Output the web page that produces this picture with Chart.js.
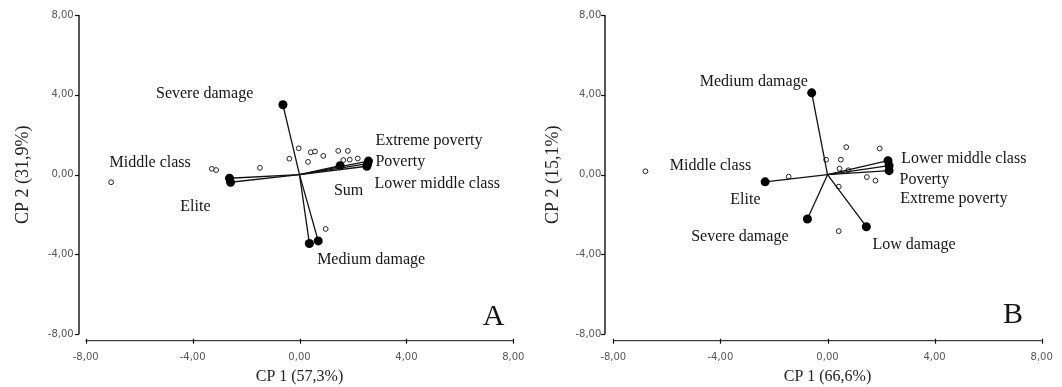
<!DOCTYPE html>
<html>
<head>
<meta charset="utf-8">
<script src="https://cdn.jsdelivr.net/npm/chart.js@4/dist/chart.umd.min.js"></script>
<style>
  html, body { margin: 0; padding: 0; background: #fff; }
  #wrap { position: relative; width: 1062px; height: 387px; overflow: hidden; }
  canvas { position: absolute; top: 0; }
</style>
</head>
<body>
<div id="wrap">
  <canvas id="panelA" width="530" height="387" style="left:0;width:530px;height:387px"></canvas>
  <canvas id="panelB" width="532" height="387" style="left:530px;width:532px;height:387px"></canvas>
</div>
<script>
// ---- shared tick labels (decimal comma) ----
const tickValues = [-8, -4, 0, 4, 8];
const tickLabels = ['-8,00', '-4,00', '0,00', '4,00', '8,00'];

// ---- Panel A: PCA biplot ----
const scoresAX = [-7.05, -3.28, -3.12, -1.48, -0.03, -0.38, 0.42, 0.58, 0.32, 0.89, 1.45, 1.81, 1.64, 1.88, 2.18, 0.98];
const scoresAY = [-0.38, 0.29, 0.23, 0.34, 1.32, 0.80, 1.12, 1.16, 0.64, 0.94, 1.19, 1.19, 0.73, 0.75, 0.81, -2.72];

const loadNamesA = ['Severe damage', 'Medium damage', 'Low damage', 'Middle class', 'Elite',
                    'Extreme poverty', 'Poverty', 'Lower middle class', 'Sum'];
const loadAX = [-0.62, 0.37, 0.70, -2.62, -2.58, 2.58, 2.55, 2.52, 1.52];
const loadAY = [3.50, -3.45, -3.32, -0.18, -0.38, 0.68, 0.55, 0.42, 0.45];

const labelTextA = ['Severe damage', 'Extreme poverty', 'Poverty', 'Lower middle class', 'Sum',
                    'Middle class', 'Elite', 'Medium damage'];
const labelAX = [-5.37, 2.84, 2.84, 2.81, 1.29, -7.11, -4.46, 0.66];
const labelAY = [4.04, 1.68, 0.63, -0.48, -0.83, 0.58, -1.63, -4.29];

// ---- Panel B: PCA biplot ----
const scoresBX = [-6.80, -1.45, -0.05, 0.50, 0.70, 1.95, 0.45, 0.78, 1.47, 1.79, 0.42, 0.42];
const scoresBY = [0.17, -0.10, 0.75, 0.75, 1.38, 1.31, 0.30, 0.22, -0.12, -0.30, -0.60, -2.83];

const loadNamesB = ['Medium damage', 'Elite', 'Severe damage', 'Low damage',
                    'Lower middle class', 'Poverty', 'Extreme poverty'];
const loadBX = [-0.59, -2.33, -0.75, 1.45, 2.26, 2.30, 2.30];
const loadBY = [4.10, -0.36, -2.22, -2.61, 0.70, 0.45, 0.20];

const labelTextB = ['Medium damage', 'Lower middle class', 'Poverty', 'Extreme poverty',
                    'Middle class', 'Elite', 'Severe damage', 'Low damage'];
const labelBX = [-4.77, 2.75, 2.69, 2.72, -5.89, -3.63, -5.09, 1.68];
const labelBY = [4.64, 0.78, -0.28, -1.23, 0.43, -1.28, -3.13, -3.53];

const SERIF = '"Liberation Serif", "Times New Roman", serif';
const SANS = '"DejaVu Sans", sans-serif';

// Draws the detached axis lines with their tick marks (SPSS style).
const detachedAxes = {
  id: 'detachedAxes',
  afterDraw(chart, args, opts) {
    const { ctx, scales: { x, y } } = chart;
    const ax = chart.chartArea.left - opts.yGap;
    const ay = chart.chartArea.bottom + opts.xGap;
    ctx.save();
    ctx.strokeStyle = '#111';
    ctx.lineWidth = 1.4;
    ctx.beginPath();
    ctx.moveTo(ax, y.getPixelForValue(8));
    ctx.lineTo(ax, y.getPixelForValue(-8));
    ctx.stroke();
    ctx.lineWidth = 1;
    ctx.beginPath();
    ctx.moveTo(x.getPixelForValue(-8), ay);
    ctx.lineTo(x.getPixelForValue(8), ay);
    ctx.stroke();
    ctx.lineWidth = 1.2;
    tickValues.forEach(v => {
      const py = Math.round(y.getPixelForValue(v)) + 0.5;
      ctx.beginPath(); ctx.moveTo(ax - 4, py); ctx.lineTo(ax, py); ctx.stroke();
      const px = Math.round(x.getPixelForValue(v)) + 0.5;
      ctx.beginPath(); ctx.moveTo(px, ay - 2); ctx.lineTo(px, ay + 3); ctx.stroke();
    });
    ctx.restore();
  }
};

// Writes the variable names and the panel letter at their data-space anchors.
const biplotLabels = {
  id: 'biplotLabels',
  afterDatasetsDraw(chart, args, opts) {
    const { ctx, scales: { x, y } } = chart;
    ctx.save();
    ctx.fillStyle = '#151515';
    ctx.textBaseline = 'middle';
    ctx.textAlign = 'left';
    ctx.font = '16px ' + SERIF;
    opts.texts.forEach((t, i) => {
      ctx.fillText(t, x.getPixelForValue(opts.xs[i]), y.getPixelForValue(opts.ys[i]));
    });
    ctx.font = '30px ' + SERIF;
    ctx.fillText(opts.letter, x.getPixelForValue(opts.letterX), y.getPixelForValue(opts.letterY));
    ctx.restore();
  }
};

function makePanel(id, p) {
  const datasets = [];
  p.loadX.forEach((lx, i) => {
    datasets.push({
      label: p.loadNames[i],
      data: [{ x: 0, y: 0 }, { x: lx, y: p.loadY[i] }],
      showLine: true,
      borderColor: '#111',
      borderWidth: 1.3,
      pointRadius: [0, 4.5],
      pointBackgroundColor: '#000',
      pointBorderColor: '#000',
      pointBorderWidth: 0
    });
  });
  datasets.push({
    label: 'scores',
    data: p.sx.map((v, i) => ({ x: v, y: p.sy[i] })),
    showLine: false,
    pointRadius: 2.4,
    pointBorderWidth: 1,
    pointBorderColor: '#222',
    pointBackgroundColor: '#fff'
  });

  const tickCb = v => {
    const k = tickValues.indexOf(v);
    return k >= 0 ? tickLabels[k] : '';
  };

  return new Chart(document.getElementById(id), {
    type: 'scatter',
    data: { datasets },
    options: {
      responsive: false,
      animation: false,
      devicePixelRatio: 1,
      events: [],
      layout: { padding: { left: 0, top: 15, right: p.width - p.chartRight, bottom: 0 } },
      plugins: {
        legend: { display: false },
        tooltip: { enabled: false },
        detachedAxes: { yGap: p.yGap, xGap: 6.4 },
        biplotLabels: {
          texts: p.labelText, xs: p.labelX, ys: p.labelY,
          letter: p.letter, letterX: p.letterX, letterY: p.letterY
        }
      },
      scales: {
        x: {
          type: 'linear', min: -8, max: 8,
          ticks: {
            stepSize: 4, padding: 0, autoSkip: false, maxRotation: 0,
            color: '#555', font: { family: SANS, size: 10 }, callback: tickCb
          },
          grid: { display: false, drawTicks: true, tickLength: 17 },
          border: { display: false },
          title: {
            display: true, text: p.xTitle, color: '#222',
            font: { family: SERIF, size: 16, lineHeight: 1.2 },
            padding: { top: 0, bottom: 1 }
          },
          afterFit(s) { s.height = 387 - 334.3; }
        },
        y: {
          type: 'linear', min: -8, max: 8,
          ticks: {
            stepSize: 4, padding: 0, autoSkip: false,
            color: '#555', font: { family: SANS, size: 10 }, callback: tickCb
          },
          grid: { display: false, drawTicks: true, tickLength: 12 },
          border: { display: false },
          title: {
            display: true, text: p.yTitle, color: '#222',
            font: { family: SERIF, size: 18, lineHeight: 1.2 },
            padding: { top: 12, bottom: 0 }
          },
          afterFit(s) { s.width = p.chartLeft; }
        }
      }
    },
    plugins: [detachedAxes, biplotLabels]
  });
}

makePanel('panelA', {
  width: 530, chartLeft: 85.7, chartRight: 513.3, yGap: 6.7,
  sx: scoresAX, sy: scoresAY,
  loadNames: loadNamesA, loadX: loadAX, loadY: loadAY,
  labelText: labelTextA, labelX: labelAX, labelY: labelAY,
  letter: 'A', letterX: 6.86, letterY: -7.14,
  xTitle: 'CP 1 (57,3%)', yTitle: 'CP 2 (31,9%)'
});

makePanel('panelB', {
  width: 532, chartLeft: 83.3, chartRight: 511.7, yGap: 8.3,
  sx: scoresBX, sy: scoresBY,
  loadNames: loadNamesB, loadX: loadBX, loadY: loadBY,
  labelText: labelTextB, labelX: labelBX, labelY: labelBY,
  letter: 'B', letterX: 6.55, letterY: -7.04,
  xTitle: 'CP 1 (66,6%)', yTitle: 'CP 2 (15,1%)'
});
</script>
</body>
</html>
